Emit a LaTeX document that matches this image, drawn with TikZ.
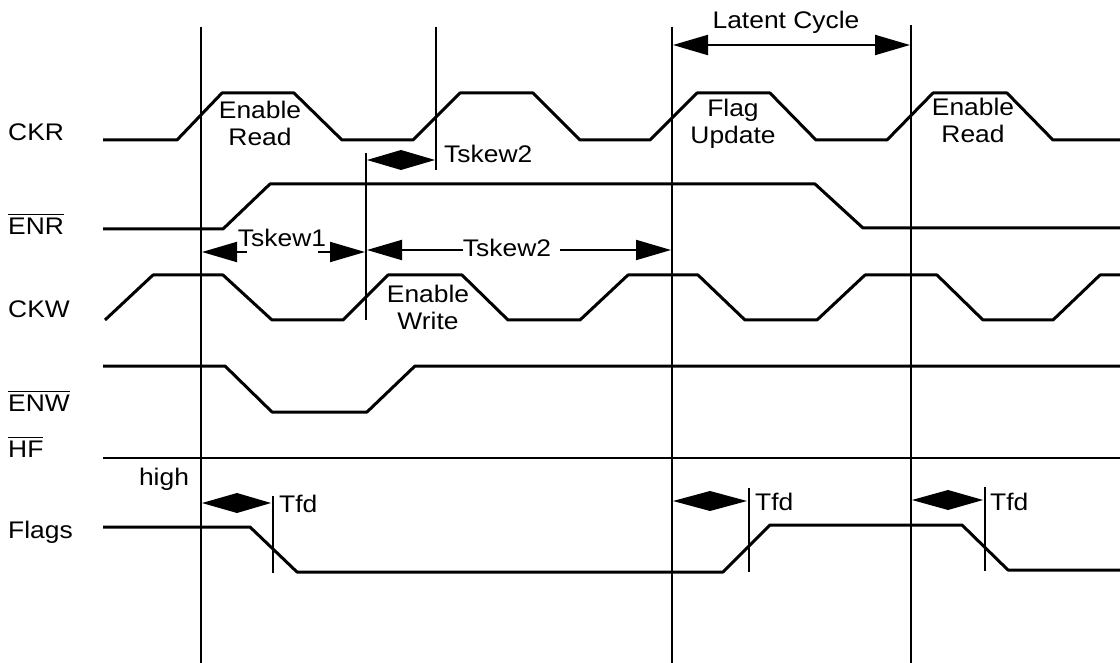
\documentclass[tikz,border=0pt]{standalone}
\usepackage{fontspec}
\setmainfont{Liberation Sans}
\usetikzlibrary{arrows.meta}
\newcommand{\olbar}[1]{\setbox0=\hbox{#1}\rlap{\rule[\dimexpr\ht0+2.5pt\relax]{\wd0}{1.8pt}}\box0}
\begin{document}
\begin{tikzpicture}[x=1pt,y=-1pt,
  sigline/.style={line width=3pt, line join=round},
  vline/.style={line width=2.4pt},
  dimline/.style={line width=2pt},
  bigtip/.style={-{Triangle[length=35pt,width=20pt]}},
  txt/.style={font=\fontsize{24}{27}\selectfont, inner sep=0pt, align=center, xscale=1.1},
  siglbl/.style={txt, anchor=west}]
\useasboundingbox (0,0) rectangle (1120,663);
\fill[white] (0,0) rectangle (1120,663);

% signal labels
\node[siglbl] (lCKR) at (8,132) {CKR};
\node[siglbl] (lENR) at (8,224) {\olbar{ENR}};
\node[siglbl] (lCKW) at (8,309) {CKW};
\node[siglbl] (lENW) at (8,401) {\olbar{ENW}};
\node[siglbl] (lHF) at (8,447) {\olbar{HF}};
\node[siglbl] (lFlags) at (8,532) {Flags};

% waveforms
\draw[sigline] (103,140) -- (177,140) -- (222,93) -- (294,93) -- (342,140) -- (413,140)
  -- (460,93) -- (533,93) -- (580,140) -- (650,140) -- (697,93) -- (770,93) -- (816,140)
  -- (887,140) -- (933,93) -- (1007,93) -- (1053,140) -- (1120,140);
\draw[sigline] (103,229) -- (223,229) -- (270,184) -- (815,184) -- (863,228) -- (1120,228);
\draw[sigline] (105,320) -- (153,275) -- (223,275) -- (272,320) -- (343,320) -- (388,275)
  -- (462,275) -- (508,320) -- (580,320) -- (628,275) -- (698,275) -- (745,320) -- (817,320)
  -- (865,275) -- (937,275) -- (983,320) -- (1053,320) -- (1100,275) -- (1120,275);
\draw[sigline] (103,366) -- (225,366) -- (272,412) -- (367,412) -- (415,366) -- (1120,366);
\draw[line width=2.4pt] (103,458) -- (1120,458);
\draw[sigline] (103,527) -- (250,527) -- (297,572) -- (723,572) -- (770,525) -- (962,525)
  -- (1008,570) -- (1120,570);

% vertical reference lines
\coordinate (V1) at (201,27);
\coordinate (V4) at (672,27);
\coordinate (V5) at (911,25);
\draw[vline] (V1) -- (201,663);
\draw[vline] (436,27) -- (436,170);
\draw[vline] (366,153) -- (366,320);
\draw[vline] (V4) -- (672,663);
\draw[vline] (V5) -- (911,663);
\draw[vline] (273,496) -- (273,573);
\draw[vline] (749,488) -- (749,572);
\draw[vline] (985,487) -- (985,571);

% diamonds
\fill (367,160) -- (401,150) -- (435,160) -- (401,170) -- cycle;
\fill (202,503) -- (237,493) -- (271,503) -- (237,513) -- cycle;
\fill (673,501) -- (710,491) -- (747,501) -- (710,511) -- cycle;
\fill (912,500) -- (948,490) -- (983,500) -- (948,510) -- cycle;

% dimension arrows
\draw[dimline, bigtip] (247,252) -- (202,252);
\draw[dimline, bigtip] (318,252) -- (365,252);
\draw[dimline, bigtip] (463,250) -- (367,250);
\draw[dimline, bigtip] (560,250) -- (671,250);
\draw[dimline, {Triangle[length=35pt,width=20pt]}-{Triangle[length=35pt,width=20pt]}] (673,45) -- (910,45);

% texts
\node[txt] (tLat) at (786,22) {Latent Cycle};
\node[txt] (tER1) at (260,123) {Enable\\Read};
\node[txt] (tFU) at (733,124) {Flag\\Update};
\node[txt] (tER2) at (973,120) {Enable\\Read};
\node[txt] (tEW) at (428,307) {Enable\\Write};
\node[txt, anchor=west] (tS2a) at (444,154) {Tskew2};
\node[txt] (tS1) at (282,238) {Tskew1};
\node[txt] (tS2b) at (507,248) {Tskew2};
\node[txt] (thigh) at (164,479) {high};
\node[txt, anchor=west] (tTfd1) at (279,504) {Tfd};
\node[txt, anchor=west] (tTfd2) at (755,502) {Tfd};
\node[txt, anchor=west] (tTfd3) at (990,502) {Tfd};
\end{tikzpicture}
\end{document}
